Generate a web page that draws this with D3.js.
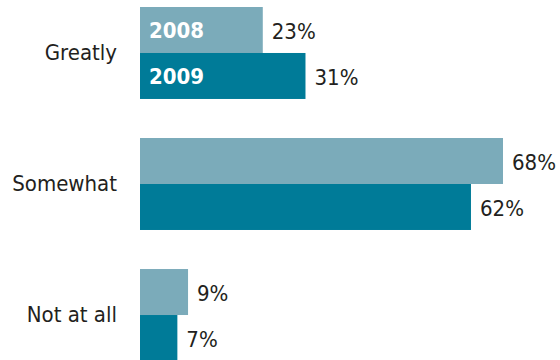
<!DOCTYPE html>
<html>
<head>
<meta charset="utf-8">
<script src="https://cdn.jsdelivr.net/npm/d3@7"></script>
<style>
  html, body { margin: 0; padding: 0; background: #fff; }
  svg { display: block; }
  text { font-family: "DejaVu Sans Condensed", "DejaVu Sans", sans-serif; }
</style>
</head>
<body>
<svg id="chart" width="560" height="360"></svg>
<script>
// Survey answers, share of respondents (%)
const categories = ["Greatly", "Somewhat", "Not at all"];
const years = ["2008", "2009"];
const values2008 = [23, 68, 9];
const values2009 = [31, 62, 7];

const colors = { "2008": "#7babba", "2009": "#007b98" };

const rows = categories.map((c, i) => ({
  category: c,
  values: [
    { year: "2008", value: values2008[i] },
    { year: "2009", value: values2009[i] }
  ]
}));

const svg = d3.select("#chart");

const x = d3.scaleLinear().domain([0, 68]).range([140, 503]);

const y = d3.scaleBand()
  .domain(categories)
  .range([7, 361])
  .paddingInner(0.298)
  .paddingOuter(0);

const ySub = d3.scaleBand()
  .domain(years)
  .range([0, y.bandwidth()])
  .padding(0);

const groups = svg.selectAll("g.group")
  .data(rows)
  .join("g")
  .attr("class", "group")
  .attr("transform", d => `translate(0,${y(d.category)})`);

// category labels, right-aligned against the bars
groups.append("text")
  .attr("x", 117)
  .attr("y", y.bandwidth() / 2 - 1)
  .attr("dy", "0.35em")
  .attr("text-anchor", "end")
  .attr("fill", "#231f20")
  .attr("font-size", 22)
  .text(d => d.category);

const bars = groups.selectAll("g.bar")
  .data(d => d.values.map(v => ({ ...v, first: d.category === categories[0] })))
  .join("g")
  .attr("class", "bar");

bars.append("rect")
  .attr("x", x(0))
  .attr("y", d => ySub(d.year))
  .attr("width", d => x(d.value) - x(0))
  .attr("height", ySub.bandwidth())
  .attr("fill", d => colors[d.year]);

// value labels to the right of each bar
bars.append("text")
  .attr("x", d => x(d.value) + 9)
  .attr("y", d => ySub(d.year) + ySub.bandwidth() / 2 + 1)
  .attr("dy", "0.35em")
  .attr("fill", "#231f20")
  .attr("font-size", 22)
  .text(d => d.value + "%");

// year keys inside the first group's bars
bars.filter(d => d.first)
  .append("text")
  .attr("x", x(0) + 9)
  .attr("y", d => ySub(d.year) + ySub.bandwidth() / 2)
  .attr("dy", "0.36em")
  .attr("fill", "#ffffff")
  .attr("font-size", 22)
  .attr("font-weight", "bold")
  .text(d => d.year);
</script>
</body>
</html>
